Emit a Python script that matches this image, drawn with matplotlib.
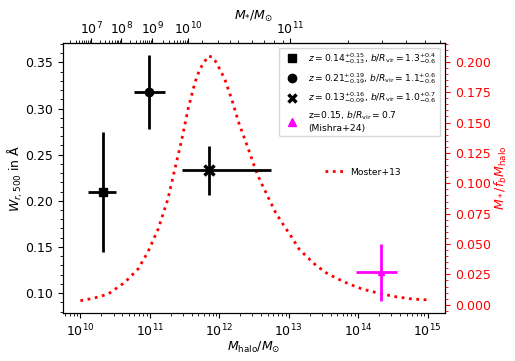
import numpy as np
import matplotlib
matplotlib.use("Agg")
import matplotlib.pyplot as plt
from matplotlib.ticker import MultipleLocator, FixedLocator, LogLocator, NullFormatter
from matplotlib.lines import Line2D

# ---------------- data ----------------
# Moster+13 curve: log10(M_halo) and M*/(f_b M_halo)
moster_log_mh = [10.00, 10.20, 10.40, 10.64, 10.83, 10.97, 11.12, 11.26, 11.36, 11.46,
                 11.55, 11.65, 11.72, 11.79, 11.84, 11.90, 11.96, 12.08, 12.18, 12.28,
                 12.42, 12.52, 12.59, 12.66, 12.74, 12.81, 12.90, 13.03, 13.15, 13.27,
                 13.39, 13.53, 13.68, 13.87, 14.06, 14.30, 14.54, 14.78, 15.00]
moster_ratio = [0.0033, 0.0055, 0.0088, 0.0184, 0.0294, 0.0431, 0.0623, 0.0869, 0.1116, 0.1360,
                0.1610, 0.1830, 0.1940, 0.2003, 0.2047, 0.2040, 0.1993, 0.1856, 0.1690, 0.1500,
                0.1280, 0.1116, 0.1020, 0.0938, 0.0842, 0.0760, 0.0678, 0.0567, 0.0458, 0.0390,
                0.0326, 0.0266, 0.0220, 0.0170, 0.0129, 0.0094, 0.0066, 0.0047, 0.0040]

# measurements: log10 halo mass (centre, low, high) and W_r,500 (centre, low, high)
sample_labels = [r'$z=0.14^{+0.15}_{-0.13}$, $b/R_{\rm vir}=1.3^{+0.4}_{-0.6}$',
                 r'$z=0.21^{+0.19}_{-0.19}$, $b/R_{\rm vir}=1.1^{+0.6}_{-0.6}$',
                 r'$z=0.13^{+0.16}_{-0.09}$, $b/R_{\rm vir}=1.0^{+0.7}_{-0.6}$']
sample_markers = ['s', 'o', 'x']
logmh_c = [10.33, 10.99, 11.857]
logmh_lo = [10.106, 10.771, 11.470]
logmh_hi = [10.515, 11.224, 12.750]
w_c = [0.2096, 0.3183, 0.2331]
w_lo = [0.1447, 0.2782, 0.2060]
w_hi = [0.2746, 0.3579, 0.2594]

# Mishra+24 point
mishra_label = 'z=0.15, $b/R_{\\rm vir}=0.7$\n(Mishra+24)'
mishra_logmh = [14.327, 13.974, 14.553]   # centre, low, high
mishra_w = [0.1224, 0.0917, 0.1530]       # centre, low, high

# top axis calibration: log10 M_halo where log10 M* ticks sit
top_log_mh = [9.855, 10.153, 10.588, 11.032, 11.553, 11.756, 12.276, 13.025,
              13.854, 14.350, 14.689, 14.968, 15.181]
top_log_ms = list(np.log10([2e6, 1e7, 1e8, 1e9, 1e10, 2e10, 5e10, 1e11,
                            2e11, 3e11, 4e11, 5e11, 6e11]))

# ---------------- figure ----------------
fig = plt.figure(figsize=(5.15, 3.61), dpi=100)
ax1 = fig.add_axes([63/515, 1-313/361, (445-63)/515, (313-43)/361])
ax2 = ax1.twinx()

TICK_FS = 9
LEG_FS = 6.6

mh = 10**np.array(moster_log_mh)
ax2.plot(mh, moster_ratio, ls=':', color='red', lw=2, label='Moster+13')

ax1.set_zorder(ax2.get_zorder() + 1)
ax1.patch.set_visible(False)

handles = []
for lab, mk, xc, xl, xh, yc, yl, yh in zip(sample_labels, sample_markers, logmh_c,
                                           logmh_lo, logmh_hi, w_c, w_lo, w_hi):
    x = 10**xc
    xerr = [[x - 10**xl], [10**xh - x]]
    yerr = [[yc - yl], [yh - yc]]
    if mk == 'x':
        ax1.errorbar([x], [yc], xerr=xerr, yerr=yerr, fmt=mk, color='k', ms=7, mew=2.5,
                     elinewidth=2, capsize=0)
        handles.append(Line2D([], [], marker=mk, ls='none', color='k', ms=6, mew=2.5, label=lab))
    else:
        ax1.errorbar([x], [yc], xerr=xerr, yerr=yerr, fmt=mk, color='k', ms=6,
                     elinewidth=2, capsize=0)
        handles.append(Line2D([], [], marker=mk, ls='none', color='k', ms=6, label=lab))

xm = 10**mishra_logmh[0]
ax1.errorbar([xm], [mishra_w[0]],
             xerr=[[xm - 10**mishra_logmh[1]], [10**mishra_logmh[2] - xm]],
             yerr=[[mishra_w[0] - mishra_w[1]], [mishra_w[2] - mishra_w[0]]],
             fmt='^', color='magenta', ms=5, elinewidth=2, capsize=0)
handles.append(Line2D([], [], marker='^', ls='none', color='magenta', ms=6, label=mishra_label))

ax1.set_xscale('log')
ax1.set_xlim(10**9.75, 10**15.25)
ax1.set_ylim(0.0784, 0.371)
ax2.set_ylim(-0.0068, 0.2155)

ax1.yaxis.set_major_locator(MultipleLocator(0.05))
ax1.yaxis.set_minor_locator(MultipleLocator(0.01))
ax2.yaxis.set_major_locator(MultipleLocator(0.025))
ax2.yaxis.set_minor_locator(MultipleLocator(0.005))

ax1.tick_params(axis='both', which='major', labelsize=TICK_FS)
ax2.tick_params(axis='y', which='both', colors='red', labelsize=TICK_FS)
ax2.spines['right'].set_color('black')

ax1.set_xlabel(r'$M_{\rm halo}/M_{\odot}$', fontsize=TICK_FS, labelpad=0.5)
ax1.set_ylabel(r'$W_{r,500}$ in Å', fontsize=TICK_FS, labelpad=0)
ax2.set_ylabel(r'$M_*/f_b M_{\rm halo}$', color='red', fontsize=TICK_FS, labelpad=1.5)

# top axis (stellar mass)
def _interp_ext(x, xp, fp):
    x = np.atleast_1d(np.asarray(x, dtype=float))
    xp = np.asarray(xp); fp = np.asarray(fp)
    y = np.interp(x, xp, fp)
    lo = x < xp[0]
    hi = x > xp[-1]
    y[lo] = fp[0] + (x[lo] - xp[0]) * (fp[1] - fp[0]) / (xp[1] - xp[0])
    y[hi] = fp[-1] + (x[hi] - xp[-1]) * (fp[-1] - fp[-2]) / (xp[-1] - xp[-2])
    return y

def fwd(m):
    m = np.asarray(m, dtype=float)
    l = np.log10(np.clip(m, 1e-300, None))
    return (10**_interp_ext(l, top_log_mh, top_log_ms)).reshape(m.shape)

def inv(m):
    m = np.asarray(m, dtype=float)
    l = np.log10(np.clip(m, 1e-300, None))
    return (10**_interp_ext(l, top_log_ms, top_log_mh)).reshape(m.shape)

sec = ax1.secondary_xaxis('top', functions=(fwd, inv))
sec.xaxis.set_major_locator(FixedLocator([1e7, 1e8, 1e9, 1e10, 1e11]))
sec.xaxis.set_minor_locator(LogLocator(base=10, subs=np.arange(2, 10), numticks=30))
sec.xaxis.set_minor_formatter(NullFormatter())
sec.tick_params(axis='x', which='major', labelsize=TICK_FS, pad=0.5)
sec.set_xlabel(r'$M_{*}/M_{\odot}$', fontsize=TICK_FS, labelpad=1)

leg1 = ax1.legend(handles=handles, loc='upper right', fontsize=LEG_FS)
ax2.legend(loc='center', bbox_to_anchor=(0.785, 0.522), frameon=False, fontsize=LEG_FS)

fig.savefig('out.png', dpi=100)
